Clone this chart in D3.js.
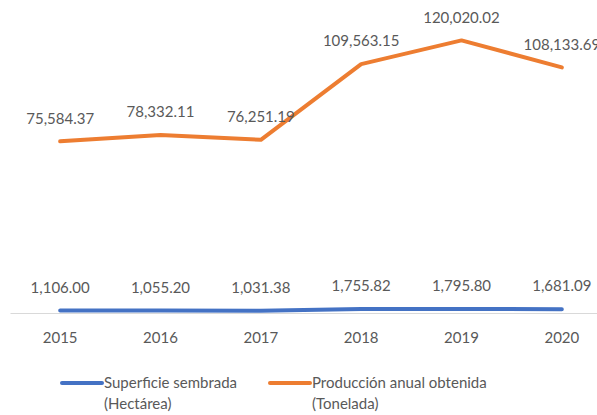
<!DOCTYPE html>
<html>
<head>
<meta charset="utf-8">
<script src="https://cdn.jsdelivr.net/npm/d3@7"></script>
<style>
  body { margin: 0; background: #fff; }
  svg text { font-family: Lato, "Noto Sans", sans-serif; fill: #595959; }
</style>
</head>
<body>
<svg id="chart" width="597" height="415"></svg>
<script>
const years = ['2015', '2016', '2017', '2018', '2019', '2020']
const superficie = [1106.00, 1055.20, 1031.38, 1755.82, 1795.80, 1681.09]
const produccion = [75584.37, 78332.11, 76251.19, 109563.15, 120020.02, 108133.69]
const seriesNames = [['Superficie sembrada', '(Hectárea)'], ['Producción anual obtenida', '(Tonelada)']]
const colors = ['#4472C4', '#ED7D31']

const svg = d3.select('#chart')

const x = d3.scaleBand()
  .domain(years)
  .range([10, 612])
const y = d3.scaleLinear()
  .domain([0, 140000])
  .range([313, -5])

const cx = (d) => x(d) + x.bandwidth() / 2

// axis
const axis = svg.append('g')
  .attr('transform', 'translate(0,' + y(0) + ')')
  .call(d3.axisBottom(x).tickSize(0).tickPadding(19))
axis.select('.domain').attr('stroke', '#d9d9d9').attr('stroke-width', 1.2)
axis.selectAll('text')
  .style('font-family', 'Lato, "Noto Sans", sans-serif')
  .style('font-size', '15px')
  .attr('fill', '#595959')

const series = [superficie, produccion]
const fmt = d3.format(',.2f')

series.forEach((vals, k) => {
  const pts = years.map((yr, i) => ({ yr: yr, v: vals[i] }))
  const line = d3.line()
    .x((d) => cx(d.yr))
    .y((d) => y(d.v))

  svg.append('path')
    .datum(pts)
    .attr('fill', 'none')
    .attr('stroke', colors[k])
    .attr('stroke-width', 4)
    .attr('stroke-linejoin', 'round')
    .attr('stroke-linecap', 'round')
    .attr('d', line)

  svg.selectAll('.lbl' + k)
    .data(pts)
    .enter().append('text')
    .attr('class', 'lbl' + k)
    .attr('x', (d) => cx(d.yr))
    .attr('y', (d) => y(d.v) - 23)
    .attr('dy', '0.35em')
    .attr('text-anchor', 'middle')
    .style('font-size', '15px')
    .text((d) => fmt(d.v))
})

// legend
const legX = [62, 270]
seriesNames.forEach((nm, k) => {
  const g = svg.append('g').attr('transform', 'translate(' + legX[k] + ',383)')
  g.append('line')
    .attr('x1', 0).attr('x2', 40)
    .attr('y1', 0).attr('y2', 0)
    .attr('stroke', colors[k])
    .attr('stroke-width', 4)
    .attr('stroke-linecap', 'round')
  g.append('text')
    .attr('x', 42).attr('y', 0).attr('dy', '0.35em')
    .style('font-size', '15px')
    .text(nm[0])
  g.append('text')
    .attr('x', 42).attr('y', 21).attr('dy', '0.35em')
    .style('font-size', '15px')
    .text(nm[1])
})
</script>
</body>
</html>
